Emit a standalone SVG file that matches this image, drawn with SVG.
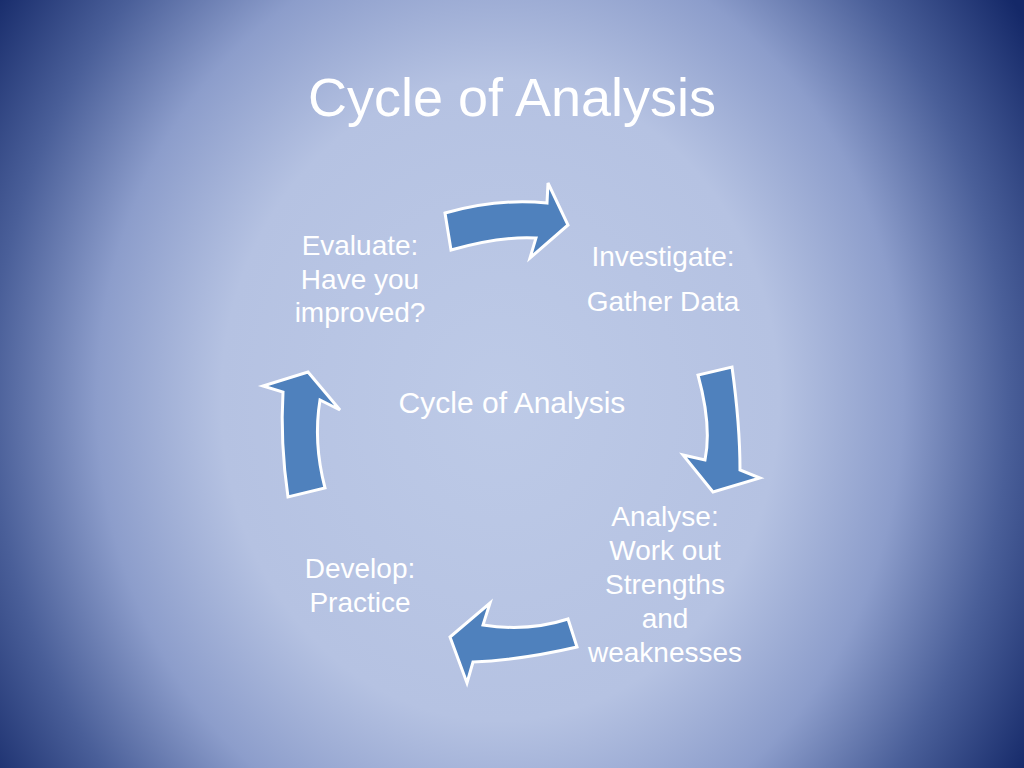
<svg xmlns="http://www.w3.org/2000/svg" width="1024" height="768" viewBox="0 0 1024 768">
<defs>
<radialGradient id="bg" gradientUnits="userSpaceOnUse" cx="500" cy="400" r="620" gradientTransform="translate(500 400) scale(1 1.15) translate(-500 -400)">
<stop offset="0" stop-color="#bdcae7"/>
<stop offset="0.45" stop-color="#b5c2e2"/>
<stop offset="0.65" stop-color="#8c9dcb"/>
<stop offset="0.82" stop-color="#4a5f99"/>
<stop offset="1" stop-color="#142868"/>
</radialGradient>
<style>
.arrow{fill:#4f81bd;stroke:#ffffff;stroke-width:3;stroke-linejoin:miter}
.t{font-family:"Liberation Sans",Arial,sans-serif;fill:#ffffff;text-anchor:middle}
.lbl{font-size:28px}
</style>
</defs>
<rect width="1024" height="768" fill="url(#bg)"/>
<text class="t" x="512" y="116" font-size="54">Cycle of Analysis</text>
<g id="center"><text class="t" x="512" y="413" font-size="30">Cycle of Analysis</text></g>
<g id="connectors">
<path class="arrow" d="M445,213 Q498,198 547,203 L548,183 L568,225 L530,258 L536,238 Q500,236 451,250 Z"/>
<path class="arrow" d="M698,375 Q712,426 705,460 L683,455 L713,492 L760,478 L740,470 Q740,425 732,367 Z"/>
<path class="arrow" d="M568,619 Q528,632 483,625 L490,603 L450,637 L467,683 L473,662 Q521,660 577,647 Z"/>
<path class="arrow" d="M288,497 Q280,442 283,392 L263,386 L308,372 L340,410 L320,400 Q313,442 325,488 Z"/>
</g>
<g id="investigate" class="t lbl">
<text x="663" y="266">Investigate:</text>
<text x="663" y="311">Gather Data</text>
</g>
<g id="analyse" class="t lbl">
<text x="665" y="526">Analyse:</text>
<text x="665" y="560">Work out</text>
<text x="665" y="594">Strengths</text>
<text x="665" y="628">and</text>
<text x="665" y="662">weaknesses</text>
</g>
<g id="develop" class="t lbl">
<text x="360" y="578">Develop:</text>
<text x="360" y="612">Practice</text>
</g>
<g id="evaluate" class="t lbl">
<text x="360" y="255">Evaluate:</text>
<text x="360" y="289">Have you</text>
<text x="360" y="322">improved?</text>
</g>
</svg>
